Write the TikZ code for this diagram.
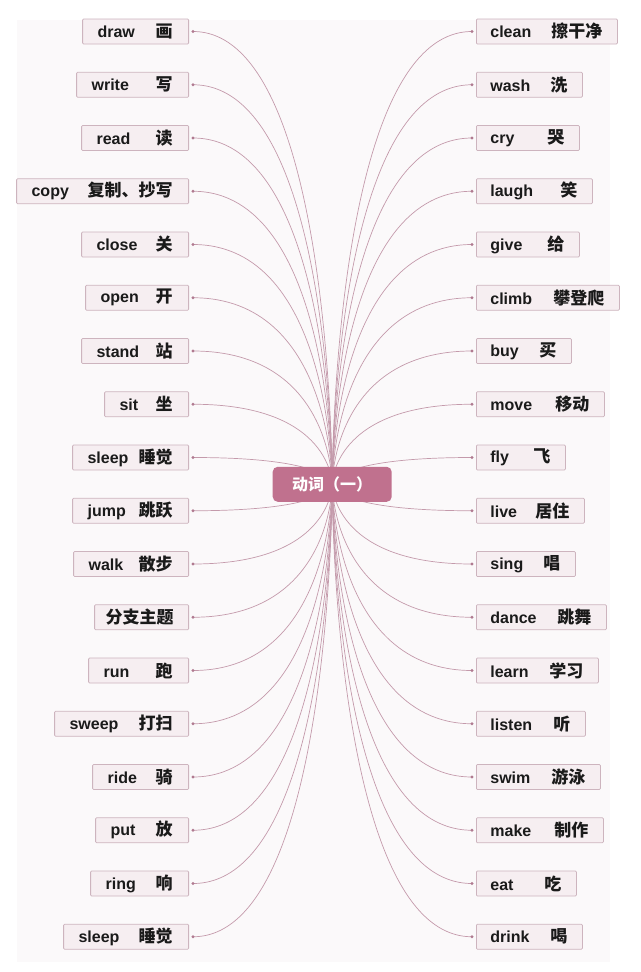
\documentclass[tikz,border=0pt]{standalone}
\usepackage{fontspec}
\setmainfont{Liberation Sans}
\newfontfamily\zhf{Noto Sans CJK SC}
\pgfdeclarelayer{bg}
\pgfsetlayers{bg,main}
\definecolor{bgc}{HTML}{FBF9FA}
\definecolor{leaffill}{HTML}{F6EEF1}
\definecolor{leafdraw}{HTML}{CDB4BE}
\definecolor{linkc}{HTML}{C49AAB}
\definecolor{dotcol}{HTML}{B07A90}
\definecolor{rootfill}{HTML}{C0718E}
\definecolor{txt}{HTML}{1A1A1A}
\newcommand\en{\fontsize{16}{16}\selectfont\bfseries}
\newcommand\zh{\zhf\fontsize{17}{17}\selectfont\bfseries}
\tikzset{
  leaf/.style={draw=leafdraw, fill=leaffill, line width=0.8pt, rounded corners=1pt,
    inner xsep=0pt, inner ysep=0pt, minimum height=25pt, text=txt},
  rootbox/.style={fill=rootfill, rounded corners=5pt, minimum width=119pt,
    minimum height=35pt, inner sep=0pt, text=white},
  link/.style={draw=linkc, line width=0.7pt},
  dotstyle/.style={fill=dotcol}
}
\newcommand\LLeaf[5]{%
  \pgfmathsetmacro\yy{31.5+53.25*#2}%
  \pgfmathsetmacro\ww{189-#3}%
  \node[leaf,anchor=east] (#1) at (189,\yy) {\hbox to \ww pt{\hspace{15pt}\en #4\hfill\zh #5\hspace{16pt}}};
  \coordinate (#1d) at (193,\yy);
  \fill[dotstyle] (#1d) circle (1.6pt);
  \begin{pgfonlayer}{bg}
  \draw[link] (#1d) .. controls (root.center |- #1d) and (root.center) .. (root.center);
  \end{pgfonlayer}
}
\newcommand\RLeaf[5]{%
  \pgfmathsetmacro\yy{31.5+53.25*#2}%
  \pgfmathsetmacro\ww{#3-476}%
  \node[leaf,anchor=west] (#1) at (476,\yy) {\hbox to \ww pt{\hspace{14pt}\en #4\hfill\zh #5\hspace{15pt}}};
  \coordinate (#1d) at (472,\yy);
  \fill[dotstyle] (#1d) circle (1.6pt);
  \begin{pgfonlayer}{bg}
  \draw[link] (#1d) .. controls (root.center |- #1d) and (root.center) .. (root.center);
  \end{pgfonlayer}
}
\begin{document}
\begin{tikzpicture}[x=1pt,y=-1pt]
\useasboundingbox (0,0) rectangle (640,972);
\begin{pgfonlayer}{bg}
\fill[white] (0,0) rectangle (640,972);
\fill[bgc] (17,20) rectangle (610,962);
\end{pgfonlayer}
\node[rootbox] (root) at (332.2,484.3) {\zhf\fontsize{16}{16}\selectfont\bfseries 动词（一）};
\LLeaf{l0}{0}{83}{draw}{画}
\LLeaf{l1}{1}{77}{write}{写}
\LLeaf{l2}{2}{82}{read}{读}
\LLeaf{l3}{3}{17}{copy}{复制、抄写}
\LLeaf{l4}{4}{82}{close}{关}
\LLeaf{l5}{5}{86}{open}{开}
\LLeaf{l6}{6}{82}{stand}{站}
\LLeaf{l7}{7}{105}{sit}{坐}
\LLeaf{l8}{8}{73}{sleep}{睡觉}
\LLeaf{l9}{9}{73}{jump}{跳跃}
\LLeaf{l10}{10}{74}{walk}{散步}
\LLeaf{l11}{11}{95}{\hspace{-4pt}}{分支主题}
\LLeaf{l12}{12}{89}{run}{跑}
\LLeaf{l13}{13}{55}{sweep}{打扫}
\LLeaf{l14}{14}{93}{ride}{骑}
\LLeaf{l15}{15}{96}{put}{放}
\LLeaf{l16}{16}{91}{ring}{响}
\LLeaf{l17}{17}{64}{sleep}{睡觉}
\RLeaf{r0}{0}{617}{clean}{擦干净}
\RLeaf{r1}{1}{582}{wash}{洗}
\RLeaf{r2}{2}{579}{cry}{哭}
\RLeaf{r3}{3}{592}{laugh}{笑}
\RLeaf{r4}{4}{579}{give}{给}
\RLeaf{r5}{5}{619}{climb}{攀登爬}
\RLeaf{r6}{6}{571}{buy}{买}
\RLeaf{r7}{7}{604}{move}{移动}
\RLeaf{r8}{8}{565}{fly}{飞}
\RLeaf{r9}{9}{584}{live}{居住}
\RLeaf{r10}{10}{575}{sing}{唱}
\RLeaf{r11}{11}{606}{dance}{跳舞}
\RLeaf{r12}{12}{598}{learn}{学习}
\RLeaf{r13}{13}{585}{listen}{听}
\RLeaf{r14}{14}{600}{swim}{游泳}
\RLeaf{r15}{15}{603}{make}{制作}
\RLeaf{r16}{16}{576}{eat}{吃}
\RLeaf{r17}{17}{582}{drink}{喝}
\end{tikzpicture}
\end{document}
